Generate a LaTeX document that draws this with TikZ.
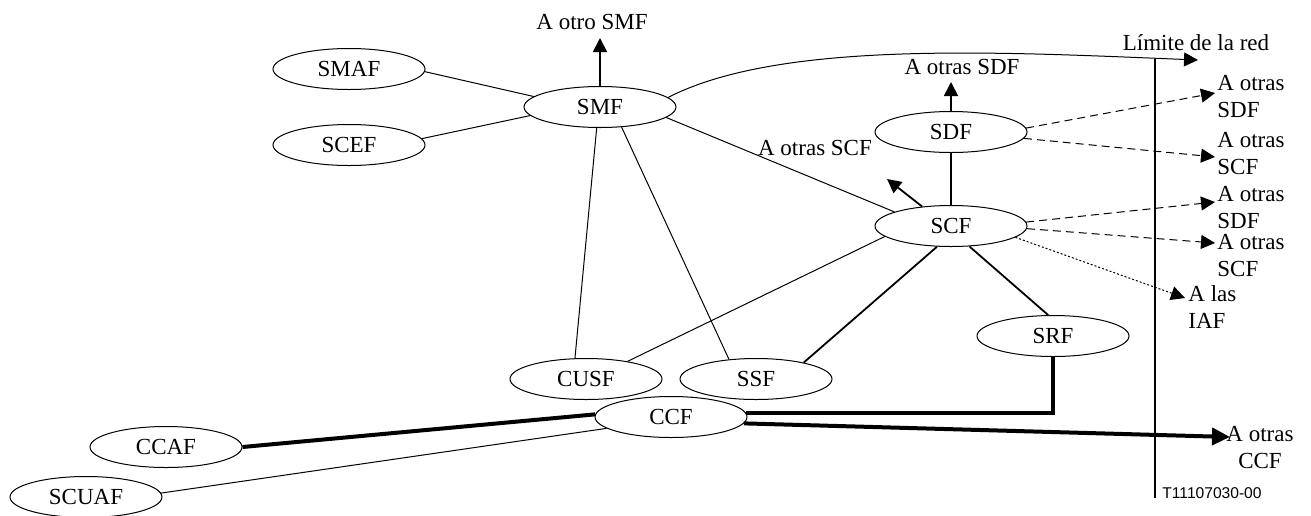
\documentclass[tikz,border=0pt]{standalone}
\usepackage{fontspec}
\setmainfont{Liberation Serif}
\newfontfamily\codefont{Liberation Sans}
\usetikzlibrary{arrows.meta,shapes.geometric}
\begin{document}
\begin{tikzpicture}[x=0.5pt,y=-0.5pt,
  font=\fontsize{11.5}{13.5}\selectfont,
  func/.style={ellipse,draw,line width=0.5pt,minimum width=76pt,minimum height=20.5pt,inner sep=0pt},
  lbl/.style={inner sep=0pt},
  linkthin/.style={line width=0.5pt},
  linkmed/.style={line width=0.9pt},
  linkheavy/.style={line width=2pt},
  tiparrow/.style={-{Triangle[length=7pt,width=7pt]}},
  bigarrow/.style={-{Triangle[length=9pt,width=8.5pt]}},
  extlink/.style={line width=0.5pt,dash pattern=on 4pt off 2.5pt},
  iaflink/.style={line width=0.5pt,dash pattern=on 1pt off 1pt}]
\useasboundingbox (0,0) rectangle (1311,515);

% functional entities
\node[func] (smaf)  at (349,69)  {SMAF};
\node[func] (scef)  at (349,145) {SCEF};
\node[func] (smf)   at (600,107) {SMF};
\node[func] (sdf)   at (951,132) {SDF};
\node[func] (scf)   at (951,226) {SCF};
\node[func] (srf)   at (1053,336) {SRF};
\node[func] (cusf)  at (586,379) {CUSF};
\node[func] (ssf)   at (756,379) {SSF};
\node[func] (ccf)   at (671,417) {CCF};
\node[func] (ccaf)  at (166,447) {CCAF};
\node[func] (scuaf) at (86,497)  {SCUAF};

% free ends of outgoing relations
\coordinate (smfOut) at (600,38);
\coordinate (sdfOut) at (951,82);
\coordinate (scfOut) at (887,179);
\coordinate (limTip) at (1198,60);
\coordinate (bTop)   at (1155,59);
\coordinate (bBot)   at (1155,498);
\coordinate (oSdf1)  at (1215,93);
\coordinate (oScf1)  at (1215,157);
\coordinate (oSdf2)  at (1215,202);
\coordinate (oScf2)  at (1215,243);
\coordinate (oIaf)   at (1185,298);
\coordinate (oCcf)   at (1230,437);

% labels
\node[lbl] (tSmf) at (592,22)  {A otro SMF};
\node[lbl] (tLim) at (1196,43) {Límite de la red};
\node[lbl] (tSdf) at (962,67)  {A otras SDF};
\node[lbl] (tScf) at (815,148) {A otras SCF};
\node[lbl,anchor=west,align=left] (r1) at (1217,96.5)  {A otras\\SDF};
\node[lbl,anchor=west,align=left] (r2) at (1217,153.5) {A otras\\SCF};
\node[lbl,anchor=west,align=left] (r3) at (1217,207.5) {A otras\\SDF};
\node[lbl,anchor=west,align=left] (r4) at (1217,255.5) {A otras\\SCF};
\node[lbl,anchor=west,align=left] (r5) at (1188,307)   {A las\\IAF};
\node[lbl,align=center] (r6) at (1260,447.5) {A otras\\CCF};
\node[lbl,font=\codefont\fontsize{7.8}{9}\selectfont] (code) at (1212,493) {T11107030-00};

% network boundary
\draw[line width=0.8pt] (bTop) -- (bBot);

% SMF relations
\draw[linkthin] (smaf.358.5) -- (smf.171.6);
\draw[linkthin] (scef.5.3) -- (smf.187);
\draw[linkmed,tiparrow] (smf.north) -- (smfOut);
\draw[linkthin] (smf.261.9) -- (cusf.118.8);
\draw[linkthin] (smf.317.6) -- (ssf.144.5);
\draw[linkthin] (smf.351.5) -- (scf.166.4);
\draw[linkthin,tiparrow] (smf.8.4) .. controls (780,40) and (1000,52) .. (limTip);

% SDF / SCF relations
\draw[linkmed,tiparrow] (sdf.north) -- (sdfOut);
\draw[linkmed] (sdf.south) -- (scf.north);
\draw[linkmed,tiparrow] (scf.146.8) -- (scfOut);
\draw[linkthin] (scf.189.9) -- (cusf.23.2);
\draw[linkmed] (scf.236.3) -- (ssf.19.5);
\draw[linkmed] (scf.312.1) -- (srf.103.4);

% relations crossing the network boundary
\draw[extlink,tiparrow] (sdf.3.8) -- (oSdf1);
\draw[extlink,tiparrow] (sdf.355.5) -- (oScf1);
\draw[extlink,tiparrow] (scf.3.6) -- (oSdf2);
\draw[extlink,tiparrow] (scf.358.5) -- (oScf2);
\draw[iaflink,tiparrow] (scf.350.4) -- (oIaf);

% CCF relations
\draw[linkheavy] (ccaf.0) -- (ccf.178.5);
\draw[linkthin] (scuaf.3.7) -- (ccf.190.3);
\draw[linkheavy] (srf.south) |- (ccf.3);
\draw[linkheavy,bigarrow] (ccf.355.5) -- (oCcf);
\end{tikzpicture}
\end{document}
